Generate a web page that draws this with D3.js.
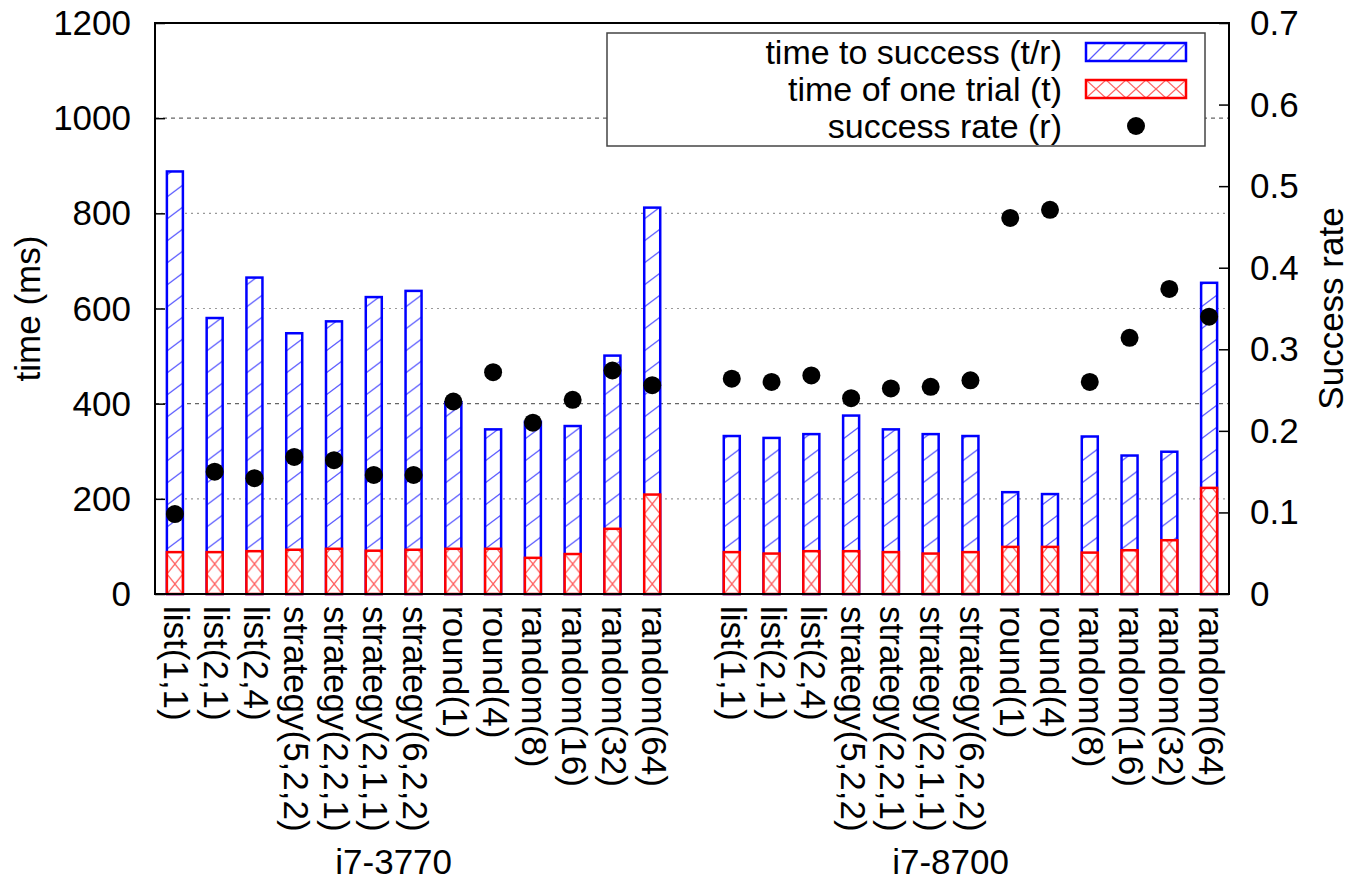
<!DOCTYPE html>
<html>
<head>
<meta charset="utf-8">
<script src="https://cdn.jsdelivr.net/npm/d3@7"></script>
<style>
  body { margin: 0; background: #fff; }
  text { font-family: "Liberation Sans", Arial, sans-serif; fill: #000; }
</style>
</head>
<body>
<script>
// values
var categories = ['list(1,1)', 'list(2,1)', 'list(2,4)', 'strategy(5,2,2)', 'strategy(2,2,1)',
  'strategy(2,1,1)', 'strategy(6,2,2)', 'round(1)', 'round(4)', 'random(8)', 'random(16)',
  'random(32)', 'random(64)'];
var groups = ['i7-3770', 'i7-8700'];

var successTime3770 = [888, 580, 665, 548, 573, 624, 637, 403, 346, 362, 353, 501, 812];
var trialTime3770 = [88, 88, 90, 93, 95, 91, 93, 95, 95, 76, 84, 137, 209];
var successRate3770 = [0.098, 0.150, 0.142, 0.168, 0.164, 0.146, 0.146, 0.236, 0.272, 0.210, 0.238, 0.274, 0.256];

var successTime8700 = [332, 328, 336, 375, 346, 336, 332, 214, 210, 331, 291, 299, 654];
var trialTime8700 = [88, 85, 90, 90, 88, 85, 88, 99, 99, 87, 92, 113, 223];
var successRate8700 = [0.264, 0.260, 0.268, 0.240, 0.252, 0.254, 0.262, 0.461, 0.471, 0.260, 0.314, 0.374, 0.340];

var timeTicks = [0, 200, 400, 600, 800, 1000, 1200];
var rateTicks = [0, 0.1, 0.2, 0.3, 0.4, 0.5, 0.6, 0.7];

var legendItems = ['time to success (t/r)', 'time of one trial (t)', 'success rate (r)'];

var rows = [];
[[successTime3770, trialTime3770, successRate3770], [successTime8700, trialTime8700, successRate8700]]
.forEach(function(set, g) {
  categories.forEach(function(c, i) {
    rows.push({slot: g * 14 + i, name: c, total: set[0][i], trial: set[1][i], rate: set[2][i]});
  });
});

var W = 1351, H = 886;
var pLeft = 155, pRight = 1229, pTop = 23, pBottom = 594;
var barW = 16;
var fs = 35;

var x = d3.scaleLinear().domain([-0.5, 26.5]).range([pLeft, pRight]);
var y = d3.scaleLinear().domain([0, 1200]).range([pBottom, pTop]);
var y2 = d3.scaleLinear().domain([0, 0.7]).range([pBottom, pTop]);

var svg = d3.select('body').append('svg')
  .attr('width', W)
  .attr('height', H);

var defs = svg.append('defs');
var step = x(1) - x(0);

// hatch for the bars: one hatch per slot so every bar gets the same look
var pb = defs.append('pattern').attr('id', 'hatchBlue')
  .attr('patternUnits', 'userSpaceOnUse')
  .attr('x', x(0) - barW / 2).attr('y', pBottom)
  .attr('width', step).attr('height', 22);
pb.append('rect').attr('width', step).attr('height', 22).attr('fill', '#fff');
pb.append('line').attr('x1', 0).attr('y1', 21).attr('x2', barW).attr('y2', 9)
  .attr('stroke', '#5a5aff').attr('stroke-width', 1.3);

var pr = defs.append('pattern').attr('id', 'hatchRed')
  .attr('patternUnits', 'userSpaceOnUse')
  .attr('x', x(0) - barW / 2).attr('y', pBottom)
  .attr('width', step).attr('height', 20);
pr.append('rect').attr('width', step).attr('height', 20).attr('fill', '#fff');
pr.append('line').attr('x1', 0).attr('y1', 0).attr('x2', barW).attr('y2', 20)
  .attr('stroke', '#ff6060').attr('stroke-width', 1.3);
pr.append('line').attr('x1', 0).attr('y1', 20).attr('x2', barW).attr('y2', 0)
  .attr('stroke', '#ff6060').attr('stroke-width', 1.3);

// hatch for the legend swatches
var lb = defs.append('pattern').attr('id', 'legBlue')
  .attr('patternUnits', 'userSpaceOnUse')
  .attr('x', 1086).attr('y', 43).attr('width', 20).attr('height', 18);
lb.append('rect').attr('width', 20).attr('height', 18).attr('fill', '#fff');
lb.append('line').attr('x1', 2).attr('y1', 18).attr('x2', 20).attr('y2', 0)
  .attr('stroke', '#5a5aff').attr('stroke-width', 1.3);

var lr = defs.append('pattern').attr('id', 'legRed')
  .attr('patternUnits', 'userSpaceOnUse')
  .attr('x', 1086).attr('y', 80).attr('width', 20).attr('height', 18);
lr.append('rect').attr('width', 20).attr('height', 18).attr('fill', '#fff');
lr.append('line').attr('x1', 0).attr('y1', 0).attr('x2', 20).attr('y2', 18)
  .attr('stroke', '#ff6060').attr('stroke-width', 1.3);
lr.append('line').attr('x1', 0).attr('y1', 18).attr('x2', 20).attr('y2', 0)
  .attr('stroke', '#ff6060').attr('stroke-width', 1.3);

// grid
svg.append('g').selectAll('line')
  .data(timeTicks.filter(function(d) { return d > 0 && d < 1200; }))
  .enter().append('line')
  .attr('x1', pLeft).attr('x2', pRight)
  .attr('y1', function(d) { return y(d); })
  .attr('y2', function(d) { return y(d); })
  .attr('stroke', function(d) { return (d === 400 || d === 1000) ? '#666' : '#999'; })
  .attr('stroke-width', 1.2)
  .attr('stroke-dasharray', function(d) { return (d === 400 || d === 1000) ? '4,4' : '2,4'; });

// bars
var bars = svg.append('g');
bars.selectAll('rect.total').data(rows).enter().append('rect')
  .attr('class', 'total')
  .attr('x', function(d) { return x(d.slot) - barW / 2; })
  .attr('y', function(d) { return y(d.total); })
  .attr('width', barW)
  .attr('height', function(d) { return y(0) - y(d.total); })
  .attr('fill', 'url(#hatchBlue)')
  .attr('stroke', '#0000ff')
  .attr('stroke-width', 2.5);

bars.selectAll('rect.trial').data(rows).enter().append('rect')
  .attr('class', 'trial')
  .attr('x', function(d) { return x(d.slot) - barW / 2; })
  .attr('y', function(d) { return y(d.trial); })
  .attr('width', barW)
  .attr('height', function(d) { return y(0) - y(d.trial); })
  .attr('fill', 'url(#hatchRed)')
  .attr('stroke', '#ff0000')
  .attr('stroke-width', 2.5);

// legend
var lg = svg.append('g');
lg.append('rect').attr('x', 607).attr('y', 33).attr('width', 598).attr('height', 113)
  .attr('fill', '#fff').attr('stroke', '#444').attr('stroke-width', 1.5);
var ly = [52, 89, 126];
lg.selectAll('text').data(legendItems).enter().append('text')
  .attr('x', 1062)
  .attr('y', function(d, i) { return ly[i] + 12; })
  .attr('text-anchor', 'end')
  .attr('font-size', 34)
  .text(function(d) { return d; });
lg.append('rect').attr('x', 1086).attr('y', ly[0] - 9).attr('width', 100).attr('height', 18)
  .attr('fill', 'url(#legBlue)').attr('stroke', '#0000ff').attr('stroke-width', 2.5);
lg.append('rect').attr('x', 1086).attr('y', ly[1] - 9).attr('width', 100).attr('height', 18)
  .attr('fill', 'url(#legRed)').attr('stroke', '#ff0000').attr('stroke-width', 2.5);
lg.append('circle').attr('cx', 1136).attr('cy', ly[2]).attr('r', 9).attr('fill', '#000');

// success rate dots
svg.append('g').selectAll('circle').data(rows).enter().append('circle')
  .attr('cx', function(d) { return x(d.slot); })
  .attr('cy', function(d) { return y2(d.rate); })
  .attr('r', 9)
  .attr('fill', '#000');

// axes
var axL = svg.append('g').attr('transform', 'translate(' + pLeft + ',0)')
  .call(d3.axisRight(y).tickValues(timeTicks).tickSize(10).tickFormat(''));
var axR = svg.append('g').attr('transform', 'translate(' + pRight + ',0)')
  .call(d3.axisLeft(y2).tickValues(rateTicks).tickSize(10).tickFormat(''));
[axL, axR].forEach(function(a) {
  a.select('.domain').remove();
  a.selectAll('line').attr('stroke', '#000').attr('stroke-width', 1.5);
});

svg.append('rect').attr('x', pLeft).attr('y', pTop).attr('width', pRight - pLeft).attr('height', pBottom - pTop)
  .attr('fill', 'none').attr('stroke', '#000').attr('stroke-width', 2);

svg.append('g').selectAll('text').data(timeTicks).enter().append('text')
  .attr('x', 131).attr('y', function(d) { return y(d) + 12; })
  .attr('text-anchor', 'end').attr('font-size', fs)
  .text(function(d) { return d; });

svg.append('g').selectAll('text').data(rateTicks).enter().append('text')
  .attr('x', 1250).attr('y', function(d) { return y2(d) + 12; })
  .attr('text-anchor', 'start').attr('font-size', fs)
  .text(function(d) { return d3.format('.1~f')(d); });

// category labels
svg.append('g').selectAll('text').data(rows).enter().append('text')
  .attr('transform', function(d) { return 'translate(' + x(d.slot) + ',606) rotate(90)'; })
  .attr('dy', '0.3em')
  .attr('font-size', fs)
  .text(function(d) { return d.name; });

svg.append('g').selectAll('text').data(groups).enter().append('text')
  .attr('x', function(d, g) { return x(g * 14 + 5.5); })
  .attr('y', 874)
  .attr('text-anchor', 'middle')
  .attr('font-size', fs)
  .text(function(d) { return d; });

svg.append('text')
  .attr('transform', 'translate(40,' + (pTop + pBottom) / 2 + ') rotate(-90)')
  .attr('text-anchor', 'middle').attr('font-size', fs)
  .text('time (ms)');

svg.append('text')
  .attr('transform', 'translate(1343,' + (pTop + pBottom) / 2 + ') rotate(-90)')
  .attr('text-anchor', 'middle').attr('font-size', fs)
  .text('Success rate');
</script>
</body>
</html>
